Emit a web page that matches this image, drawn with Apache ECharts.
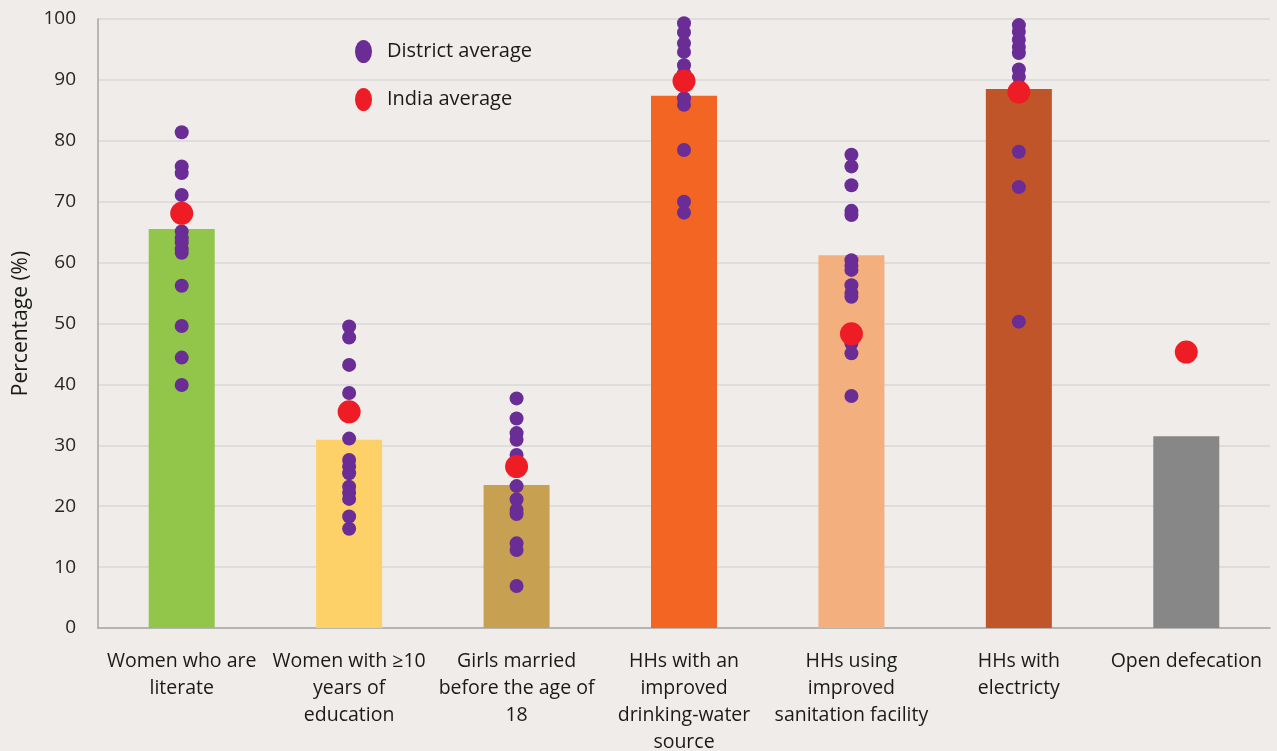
<!DOCTYPE html>
<html>
<head>
<meta charset="utf-8">
<script src="https://cdn.jsdelivr.net/npm/echarts@6/dist/echarts.min.js"></script>
<style>
  html, body { margin: 0; padding: 0; background: #EFECE9; }
  #chart { width: 1277px; height: 751px; }
</style>
</head>
<body>
<div id="chart"></div>
<script>
// Indicator categories (x axis)
const categories = [
  'Women who are\nliterate',
  'Women with \u226510\nyears of\neducation',
  'Girls married\nbefore the age of\n18',
  'HHs with an\nimproved\ndrinking-water\nsource',
  'HHs using\nimproved\nsanitation facility',
  'HHs with\nelectricty',
  'Open defecation'
];

// State-level value for each indicator (bars)
const stateValues = [65.5, 30.9, 23.5, 87.4, 61.2, 88.5, 31.5];
const barColors = ['#92C64A', '#FED068', '#C8A052', '#F26522', '#F4AF7E', '#C0552A', '#878787'];

// National average for each indicator
const indiaAverage = [68.1, 35.5, 26.5, 89.8, 48.3, 88.0, 45.3];

// District averages, one list per indicator
const districtLiterate    = [81.4, 75.8, 74.7, 71.1, 65.1, 64.0, 63.3, 62.2, 61.6, 56.2, 49.6, 44.4, 39.9];
const districtEducation   = [49.5, 47.7, 43.2, 38.6, 31.1, 27.6, 26.5, 25.4, 23.2, 22.2, 21.2, 18.3, 16.3];
const districtChildMarr   = [37.7, 34.4, 32.0, 30.9, 28.4, 26.9, 23.3, 21.1, 19.4, 18.7, 13.9, 12.8, 6.9];
const districtWater       = [99.3, 97.8, 96.0, 94.6, 92.4, 91.1, 89.5, 87.0, 85.9, 78.5, 70.0, 68.2];
const districtSanitation  = [77.7, 75.8, 72.7, 68.5, 67.8, 60.4, 59.5, 58.8, 56.3, 55.0, 54.4, 46.7, 45.1, 38.1];
const districtElectricity = [99.0, 97.9, 96.6, 95.4, 94.4, 91.7, 90.5, 89.0, 78.2, 72.4, 50.3];
const districtOpenDef     = [];

const districtLists = [districtLiterate, districtEducation, districtChildMarr,
  districtWater, districtSanitation, districtElectricity, districtOpenDef];

const yTicks = { min: 0, max: 100, interval: 10 };

const districtPoints = [];
districtLists.forEach((list, i) => list.forEach(v => districtPoints.push([i, v])));
const indiaPoints = indiaAverage.map((v, i) => [i, v]);

const FONT = 'Open Sans';
const ellipse = 'path://M0,10 A10,10 0 1,1 20,10 A10,10 0 1,1 0,10 Z';

const chart = echarts.init(document.getElementById('chart'), null, { renderer: 'canvas' });
chart.setOption({
  backgroundColor: '#EFECE9',
  animation: false,
  textStyle: { fontFamily: FONT },
  grid: { left: 98, right: 7, top: 19, bottom: 123, containLabel: false, outerBoundsMode: 'none' },
  legend: {
    left: 350, top: 35,
    orient: 'vertical',
    itemWidth: 17, itemHeight: 23, itemGap: 25,
    symbolKeepAspect: false,
    textStyle: { fontFamily: FONT, fontSize: 20, color: '#1a1a1a', padding: [0, 0, 0, 10] },
    data: [
      { name: 'District average', icon: ellipse },
      { name: 'India average', icon: ellipse }
    ]
  },
  xAxis: {
    type: 'category',
    data: categories,
    axisLine: { lineStyle: { color: '#A6A6A6', width: 1.5 } },
    axisTick: { show: false },
    axisLabel: {
      interval: 0, margin: 20,
      fontFamily: FONT, fontSize: 19.5, color: '#1a1a1a', lineHeight: 27
    }
  },
  yAxis: {
    type: 'value',
    min: yTicks.min, max: yTicks.max, interval: yTicks.interval,
    name: 'Percentage (%)',
    nameLocation: 'middle',
    nameGap: 66,
    nameRotate: 90,
    nameTextStyle: { fontFamily: FONT, fontSize: 21, color: '#1a1a1a' },
    axisLine: { show: true, lineStyle: { color: '#A6A6A6', width: 1.5 } },
    axisTick: { show: false },
    axisLabel: { margin: 22, fontFamily: FONT, fontSize: 19, color: '#262626' },
    splitLine: { lineStyle: { color: '#D9D9D9', width: 1.5 } }
  },
  series: [
    {
      type: 'bar',
      barWidth: 66,
      data: stateValues.map((v, i) => ({ value: v, itemStyle: { color: barColors[i] } })),
      z: 1
    },
    {
      name: 'District average',
      type: 'scatter',
      data: districtPoints,
      symbolSize: 14,
      itemStyle: { color: '#6A2C95', opacity: 1 },
      z: 3
    },
    {
      name: 'India average',
      type: 'scatter',
      data: indiaPoints,
      symbolSize: 23,
      itemStyle: { color: '#EE1C25', opacity: 1 },
      z: 4
    }
  ]
});
</script>
</body>
</html>
